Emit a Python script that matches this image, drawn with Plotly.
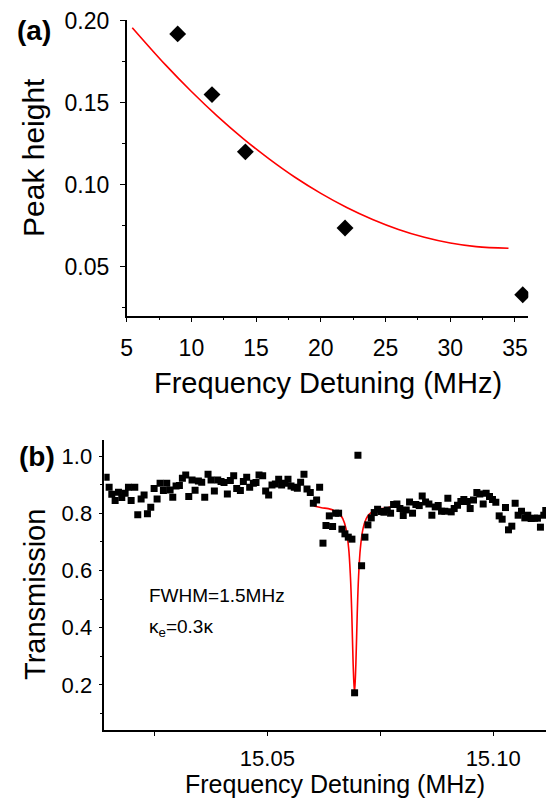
import plotly.graph_objects as go

W, H = 546, 800

# ---------------- Panel (a) data ----------------
a_detuning = [8.94, 11.59, 14.17, 21.87, 35.6]
a_peak = [0.1919, 0.1549, 0.1200, 0.0736, 0.0329]
a_fit_x = [5.43, 8, 10, 12, 14, 16, 18, 20, 22, 24, 26, 28, 30, 32, 34.5]
a_fit_y = [0.1957, 0.1730, 0.1568, 0.1418, 0.1281, 0.1157, 0.1045, 0.0947,
           0.0861, 0.0788, 0.0727, 0.0679, 0.0644, 0.0622, 0.0612]

# ---------------- Panel (b) data ----------------
b_freq = [
    15.01431, 15.01497, 15.01556, 15.01630, 15.01704, 15.01777, 15.01851, 15.01925, 15.01984, 15.02065,
    15.02131, 15.02205, 15.02271, 15.02345, 15.02419, 15.02493, 15.02559, 15.02625, 15.02699, 15.02773,
    15.02847, 15.02906, 15.02979, 15.03053, 15.03119, 15.03193, 15.03260, 15.03333, 15.03400, 15.03473,
    15.03547, 15.03614, 15.03687, 15.03754, 15.03827, 15.03901, 15.03975, 15.04041, 15.04115, 15.04181,
    15.04255, 15.04322, 15.04403, 15.04469, 15.04543, 15.04609, 15.04690, 15.04749, 15.04816, 15.04897,
    15.04963, 15.05029, 15.05103, 15.05177, 15.05251, 15.05317, 15.05391, 15.05457, 15.05524, 15.05597,
    15.05664, 15.05737, 15.05811, 15.05878, 15.05951, 15.06018, 15.06091, 15.06158, 15.06232, 15.06298,
    15.06372, 15.06445, 15.06512, 15.06578, 15.06652, 15.06718, 15.06792, 15.06873, 15.06932, 15.07006,
    15.07087, 15.07161, 15.07227, 15.07301, 15.07367, 15.07441, 15.07515, 15.07581, 15.07655, 15.07729,
    15.07795, 15.07869, 15.07935, 15.08009, 15.08075, 15.08149, 15.08215, 15.08289, 15.08363, 15.08429,
    15.08503, 15.08577, 15.08643, 15.08717, 15.08783, 15.08857, 15.08931, 15.08997, 15.09071, 15.09137,
    15.09211, 15.09285, 15.09351, 15.09425, 15.09491, 15.09565, 15.09639, 15.09705, 15.09779, 15.09845,
    15.09919, 15.09985, 15.10059, 15.10133, 15.10199, 15.10273, 15.10339, 15.10413, 15.10487, 15.10553,
    15.10627, 15.10701, 15.10767, 15.10841, 15.10915, 15.10981, 15.11047, 15.11121, 15.11165,
]
b_trans = [
    0.9256, 0.8907, 0.8663, 0.8442, 0.8733, 0.8547, 0.8698, 0.8907, 0.8442, 0.8907,
    0.7942, 0.8500, 0.8640, 0.7977, 0.8209, 0.8860, 0.8500, 0.9047, 0.8791, 0.9047,
    0.8814, 0.8558, 0.8953, 0.8965, 0.9221, 0.9337, 0.8581, 0.9163, 0.8802, 0.9128,
    0.9081, 0.8558, 0.9360, 0.9163, 0.8779, 0.9163, 0.9105, 0.9070, 0.8674, 0.9140,
    0.9314, 0.8860, 0.8791, 0.9105, 0.9256, 0.8907, 0.9047, 0.9070, 0.9337, 0.9314,
    0.8779, 0.8640, 0.8988, 0.9023, 0.9186, 0.8988, 0.9047, 0.9186, 0.8953, 0.8907,
    0.8872, 0.9081, 0.9360, 0.8849, 0.8721, 0.8349, 0.8465, 0.8907, 0.6953, 0.7570,
    0.7907, 0.7535, 0.8000, 0.8000, 0.7442, 0.7279, 0.7163, 0.7093, 0.1721, 1.0023,
    0.6163, 0.7163, 0.7593, 0.7837, 0.8023, 0.8140, 0.8058, 0.8035, 0.8116, 0.8000,
    0.8302, 0.8326, 0.8163, 0.7919, 0.8116, 0.8395, 0.8000, 0.8302, 0.8267, 0.8605,
    0.8395, 0.8326, 0.7930, 0.8221, 0.8267, 0.8070, 0.8070, 0.8523, 0.8047, 0.8163,
    0.8279, 0.8407, 0.8477, 0.8407, 0.8163, 0.8465, 0.8721, 0.8674, 0.8326, 0.8698,
    0.8581, 0.8477, 0.8384, 0.7907, 0.7791, 0.8198, 0.7419, 0.7547, 0.8349, 0.7930,
    0.8070, 0.7837, 0.7930, 0.7814, 0.7826, 0.7826, 0.7512, 0.7930, 0.8093,
]
b_fit_x = [15.0603, 15.0620, 15.0635, 15.0650, 15.0660, 15.0667, 15.0674, 15.0680,
           15.0684, 15.0687, 15.0690, 15.0693, 15.0696, 15.0699, 15.0702, 15.0706,
           15.0712, 15.0719, 15.0726, 15.0736, 15.0751, 15.0766, 15.0779]
b_fit_y = [0.825, 0.819, 0.816, 0.808, 0.797, 0.781, 0.747, 0.678,
           0.578, 0.447, 0.272, 0.170, 0.272, 0.447, 0.578, 0.678,
           0.747, 0.781, 0.797, 0.808, 0.816, 0.819, 0.825]

a_xticks = [5, 10, 15, 20, 25, 30, 35]
b_xticks = [15.05, 15.10]
b_xtick_text = ["15.05", "15.10"]
b_xminor = [15.025, 15.075]


def px(x):
    return x / W


def py(y):
    return (H - y) / H


FONT = "Liberation Sans, Arial, sans-serif"

fig = go.Figure()
fig.add_trace(go.Scatter(x=a_fit_x, y=a_fit_y, mode="lines", line=dict(color="#ff0000", width=1.6, shape="spline"),
                         xaxis="x", yaxis="y", showlegend=False))
fig.add_trace(go.Scatter(x=a_detuning, y=a_peak, mode="markers",
                         marker=dict(symbol="diamond", size=13, color="black"),
                         xaxis="x", yaxis="y", showlegend=False))
fig.add_trace(go.Scatter(x=b_fit_x, y=b_fit_y, mode="lines", line=dict(color="#ff0000", width=1.6, shape="spline"),
                         xaxis="x2", yaxis="y2", showlegend=False))
fig.add_trace(go.Scatter(x=b_freq, y=b_trans, mode="markers",
                         marker=dict(symbol="square", size=7, color="black"),
                         xaxis="x2", yaxis="y2", showlegend=False))

axis_common = dict(showline=True, linecolor="black", linewidth=1.5, ticks="outside", tickcolor="black",
                   tickwidth=1.3, showgrid=False, zeroline=False, mirror=False, automargin=False)

fig.update_layout(
    width=W, height=H, margin=dict(l=0, r=0, t=0, b=0, autoexpand=False),
    paper_bgcolor="white", plot_bgcolor="white",
    font=dict(family=FONT, color="black"),
    xaxis=dict(domain=[px(126.7), px(528.3)], range=[5, 36.03], anchor="y",
               tickvals=a_xticks, ticklen=5, tickfont=dict(size=23),
               minor=dict(dtick=2.5, tick0=5, ticks="outside", ticklen=3, tickcolor="black", tickwidth=1.2),
               ticklabelstandoff=6, **axis_common),
    yaxis=dict(domain=[py(315.7), py(19.8)], range=[0.0201, 0.2005], anchor="x",
               dtick=0.05, tick0=0, tickformat=".2f", ticklen=5, tickfont=dict(size=23),
               minor=dict(dtick=0.025, tick0=0, ticks="outside", ticklen=3, tickcolor="black", tickwidth=1.2),
               ticklabelstandoff=6, **axis_common),
    xaxis2=dict(domain=[px(104.3), 1.0], range=[15.0139, 15.1117], anchor="y2",
                tickvals=b_xticks, ticktext=b_xtick_text, ticklen=4, tickfont=dict(size=22),
                minor=dict(tickvals=b_xminor, ticks="outside", ticklen=4, tickcolor="black", tickwidth=1.2),
                ticklabelstandoff=4, **axis_common),
    yaxis2=dict(domain=[py(730), py(440)], range=[0.042, 1.056], anchor="x2",
                dtick=0.2, tick0=0, tickformat=".1f", ticklen=4, tickfont=dict(size=22),
                minor=dict(dtick=0.1, tick0=0, ticks="outside", ticklen=3, tickcolor="black", tickwidth=1.2),
                ticklabelstandoff=2, **axis_common),
)

ann = [
    dict(text="<b>(a)</b>", x=px(34), y=py(31), font=dict(size=28)),
    dict(text="<b>(b)</b>", x=px(37), y=py(456), font=dict(size=28)),
    dict(text="Frequency Detuning (MHz)", x=px(328), y=py(383), font=dict(size=29)),
    dict(text="Peak height", x=px(33), y=py(158), font=dict(size=30), textangle=-90),
    dict(text="Transmission", x=px(35), y=py(595), font=dict(size=29), textangle=-90),
    dict(text="Frequency Detuning (MHz)", x=px(335), y=py(784), font=dict(size=25)),
    dict(text="FWHM=1.5MHz", x=px(147), y=py(595), font=dict(size=19), xanchor="left"),
    dict(text="κ<sub>e</sub>=0.3κ", x=px(147), y=py(628), font=dict(size=19), xanchor="left"),
]
for a in ann:
    a.setdefault("xanchor", "center")
    a.update(xref="paper", yref="paper", yanchor="middle", showarrow=False)
    fig.add_annotation(**a)

fig.write_html("out.html", config={"displayModeBar": False},
               post_script="document.body.style.margin='0';document.body.style.overflow='hidden';")
